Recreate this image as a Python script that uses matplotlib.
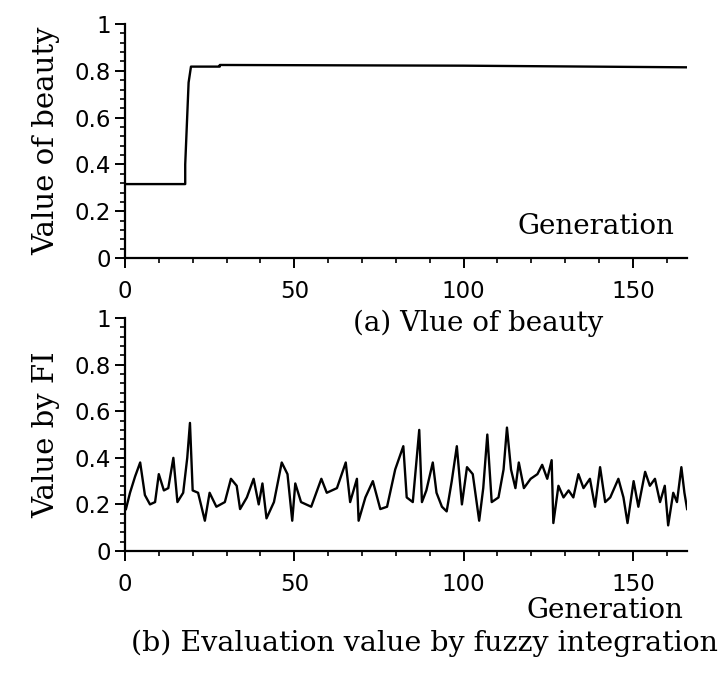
import numpy as np
import matplotlib.pyplot as plt
from matplotlib.pyplot import MultipleLocator

# (a) value of beauty, step curve
gen_a = [0, 17.8, 17.8, 18.8, 19.5, 28, 28, 100, 166]
val_a = [0.316, 0.316, 0.40, 0.75, 0.818, 0.818, 0.825, 0.822, 0.815]

# (b) evaluation value by fuzzy integration
gen_b = [0.3, 1.5, 3, 4.5, 5.9, 7.4, 8.9, 10, 11.5, 12.8, 14.3, 15.5, 17.2, 18.4,
         19.2, 20, 21.6, 23.6, 25, 27, 29.5, 31.3, 33, 34, 36, 38, 39.5, 40.6,
         41.8, 44, 46.3, 48, 49.4, 50.3, 52, 55, 58, 59.6, 62.6, 65.2, 66.5, 68.5,
         69, 71, 73.2, 75.4, 77.4, 79.8, 82.2, 83.2, 85, 86.9, 87.7, 89, 90.9, 92,
         93.6, 95, 96.5, 98, 99.5, 101, 102.7, 104.6, 105.8, 107, 108.3, 110.3,
         111.8, 112.8, 114, 115.3, 116.3, 117.8, 119.8, 121.8, 123.2, 124.7, 126,
         126.5, 128, 129.5, 131, 132.4, 133.9, 135.4, 137.3, 138.8, 140.3, 141.8,
         143.3, 145.7, 147.2, 148.4, 150.2, 151.6, 153.6, 155, 156.5, 158, 159.4,
         160.4, 161.9, 163, 164.3, 165.2, 166]
val_b = [0.18, 0.25, 0.32, 0.38, 0.24, 0.20, 0.21, 0.33, 0.26, 0.27, 0.40, 0.21,
         0.25, 0.40, 0.55, 0.26, 0.25, 0.13, 0.25, 0.19, 0.21, 0.31, 0.28, 0.18,
         0.23, 0.31, 0.20, 0.29, 0.14, 0.21, 0.38, 0.33, 0.13, 0.29, 0.21, 0.19,
         0.31, 0.25, 0.27, 0.38, 0.21, 0.31, 0.13, 0.23, 0.30, 0.18, 0.19, 0.35,
         0.45, 0.23, 0.21, 0.52, 0.21, 0.26, 0.38, 0.25, 0.19, 0.17, 0.30, 0.45,
         0.20, 0.36, 0.33, 0.13, 0.27, 0.50, 0.21, 0.23, 0.35, 0.53, 0.35, 0.27,
         0.38, 0.27, 0.31, 0.33, 0.37, 0.31, 0.39, 0.12, 0.28, 0.23, 0.26, 0.23,
         0.33, 0.27, 0.31, 0.19, 0.36, 0.21, 0.23, 0.31, 0.23, 0.12, 0.30, 0.19,
         0.34, 0.28, 0.31, 0.21, 0.28, 0.11, 0.25, 0.21, 0.36, 0.25, 0.18]

x_ticks = [0, 50, 100, 150]
y_ticks = [0, 0.2, 0.4, 0.6, 0.8, 1]
y_ticklabels = ['0', '0.2', '0.4', '0.6', '0.8', '1']

serif = 'DejaVu Serif'
fig = plt.figure(figsize=(7.18, 6.73), dpi=100)
ax1 = fig.add_axes([0.174, 0.6166, 0.783, 0.3477])
ax2 = fig.add_axes([0.174, 0.1813, 0.783, 0.346])

ax1.plot(gen_a, val_a, color='black', lw=1.7)
ax2.plot(gen_b, val_b, color='black', lw=1.7)

for ax in (ax1, ax2):
    ax.set_xlim(0, 166)
    ax.set_ylim(0, 1)
    ax.spines['top'].set_visible(False)
    ax.spines['right'].set_visible(False)
    ax.spines['left'].set_linewidth(1.6)
    ax.spines['bottom'].set_linewidth(1.6)
    ax.set_xticks(x_ticks)
    ax.set_yticks(y_ticks)
    ax.set_yticklabels(y_ticklabels)
    ax.xaxis.set_minor_locator(MultipleLocator(10))
    ax.yaxis.set_minor_locator(MultipleLocator(0.04))
    ax.tick_params(which='major', direction='out', length=7, width=1.4,
                   labelsize=16.5, colors='black')
    ax.tick_params(which='minor', direction='out', length=3.8, width=1.2)
    ax.tick_params(axis='x', which='major', pad=9)
    ax.tick_params(axis='y', which='major', pad=3)

ax1.set_ylabel('Value of beauty', fontsize=21, family=serif, labelpad=10)
ax2.set_ylabel('Value by FI', fontsize=21, family=serif, labelpad=10)

ax1.text(0.977, 0.135, 'Generation', transform=ax1.transAxes, ha='right',
         va='center', fontsize=20, family=serif)
fig.text(478 / 718, 1 - 323 / 673, '(a) Vlue of beauty', ha='center',
         va='center', fontsize=20, family=serif)
fig.text(683 / 718, 1 - 610 / 673, 'Generation', ha='right', va='center',
         fontsize=20, family=serif)
fig.text(424 / 718, 1 - 643 / 673, '(b) Evaluation value by fuzzy integration',
         ha='center', va='center', fontsize=20.5, family=serif)

plt.savefig('out.png', dpi=100)
